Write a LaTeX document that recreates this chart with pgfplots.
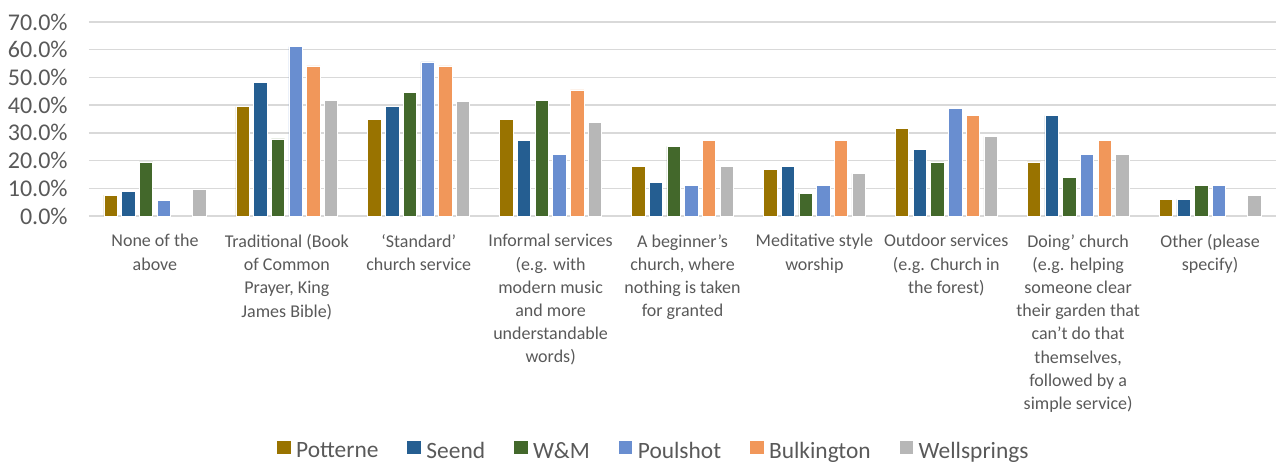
\documentclass[border=0pt]{standalone}
\usepackage{pgfplots}
\pgfplotsset{compat=1.18}
\usepackage{fontspec}
\setmainfont{Carlito}
\definecolor{cPot}{HTML}{997300}
\definecolor{cSee}{HTML}{255E91}
\definecolor{cWM}{HTML}{43682B}
\definecolor{cPou}{HTML}{698ED0}
\definecolor{cBul}{HTML}{F1975A}
\definecolor{cWel}{HTML}{B7B7B7}
\definecolor{txt}{HTML}{595959}
\definecolor{gridc}{HTML}{D9D9D9}
\begin{document}
\begin{tikzpicture}
\begin{axis}[
  scale only axis,
  width=593.5pt, height=97pt,
  xmin=-0.5, xmax=8.5, ymin=0, ymax=70,
  enlargelimits=false,
  ybar=2.15pt, bar width=6.7pt,
  axis line style={draw=none},
  major tick length=0pt,
  xmajorgrids=false,
  ymajorgrids=true,
  y grid style={color=gridc, line width=0.75pt},
  ytick={0,10,...,70},
  yticklabel={\pgfmathprintnumber[fixed,fixed zerofill,precision=1,assume math mode=true]{\tick}\%},
  yticklabel style={font=\fontsize{12}{14}\selectfont, text=txt, inner sep=0pt, anchor=east, xshift=-10.5pt},
  xtick={0,...,8},
  xticklabels={{None of the\\above},{Traditional (Book\\of Common\\Prayer, King\\James Bible)},{‘Standard’\\church service},{Informal services\\(e.g. with\\modern music\\and more\\understandable\\words)},{A beginner’s\\church, where\\nothing is taken\\for granted},{Meditative style\\worship},{Outdoor services\\(e.g. Church in\\the forest)},{Doing’ church\\(e.g. helping\\someone clear\\their garden that\\can’t do that\\themselves,\\followed by a\\simple service)},{Other (please\\specify)}},
  xticklabel style={font=\fontsize{9}{11.6}\selectfont, text=txt, align=center, anchor=north, inner sep=0pt, yshift=-9pt},
  every axis plot/.append style={draw=white, line width=0.3pt},
  legend columns=-1,
  legend style={at={(axis description cs:0.475,0)}, anchor=center, yshift=-117.5pt, draw=none, fill=none, font=\fontsize{11.7}{13}\selectfont, text=txt, inner sep=0pt,
    nodes={inner sep=0pt},
    /tikz/every odd column/.append style={column sep=2.75pt},
    /tikz/every even column/.append style={column sep=14.5pt}},
  legend image code/.code={\fill[#1,draw=none] (0pt,-1.1pt) rectangle (6.75pt,5.65pt);},
]
\addplot[fill=cPot] coordinates {(0,7.5) (1,39.5) (2,34.9) (3,34.9) (4,18.0) (5,16.7) (6,31.6) (7,19.5) (8,6.0)};
\addplot[fill=cSee] coordinates {(0,9.0) (1,48.2) (2,39.5) (3,27.3) (4,12.0) (5,18.0) (6,24.1) (7,36.2) (8,6.0)};
\addplot[fill=cWM] coordinates {(0,19.5) (1,27.8) (2,44.5) (3,41.7) (4,25.1) (5,8.3) (6,19.5) (7,14.0) (8,11.1)};
\addplot[fill=cPou] coordinates {(0,5.7) (1,61.1) (2,55.6) (3,22.3) (4,11.1) (5,11.1) (6,38.9) (7,22.3) (8,11.1)};
\addplot[fill=cBul] coordinates {(1,54.2) (2,54.2) (3,45.5) (4,27.3) (5,27.3) (6,36.2) (7,27.3)};
\addplot[fill=cWel] coordinates {(0,9.7) (1,41.7) (2,41.3) (3,33.8) (4,18.0) (5,15.4) (6,28.7) (7,22.3) (8,7.5)};
\legend{Potterne,Seend,W\&M,Poulshot,Bulkington,Wellsprings}
\coordinate (o) at (rel axis cs:0,0);
\end{axis}
\pgfresetboundingbox
\path[use as bounding box] (o) ++(-44.5pt,-123pt) rectangle ++(639pt,231pt);
\end{tikzpicture}
\end{document}
